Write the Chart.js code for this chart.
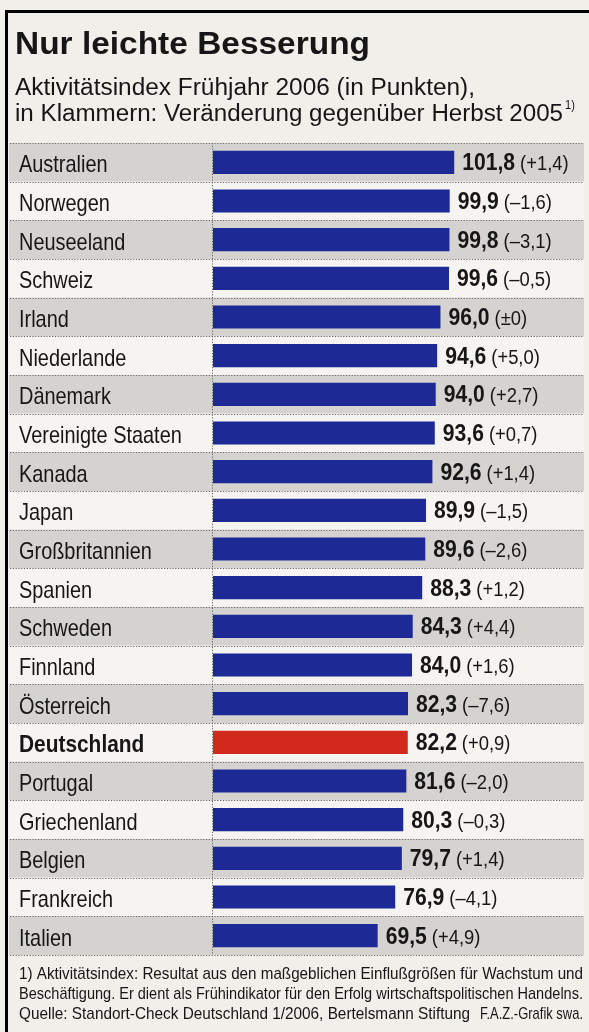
<!DOCTYPE html>
<html>
<head>
<meta charset="utf-8">
<script src="https://cdn.jsdelivr.net/npm/chart.js@4"></script>
<style>
  body { margin: 0; background: #f1efea; }
  canvas { display: block; }
</style>
</head>
<body>
<canvas id="chart" width="589" height="1032"></canvas>
<script>
const countries = ['Australien', 'Norwegen', 'Neuseeland', 'Schweiz', 'Irland', 'Niederlande', 'Dänemark',
  'Vereinigte Staaten', 'Kanada', 'Japan', 'Großbritannien', 'Spanien', 'Schweden', 'Finnland',
  'Österreich', 'Deutschland', 'Portugal', 'Griechenland', 'Belgien', 'Frankreich', 'Italien'];
const scores = [101.8, 99.9, 99.8, 99.6, 96.0, 94.6, 94.0, 93.6, 92.6, 89.9, 89.6,
  88.3, 84.3, 84.0, 82.3, 82.2, 81.6, 80.3, 79.7, 76.9, 69.5];
const changes = [1.4, -1.6, -3.1, -0.5, 0, 5.0, 2.7, 0.7, 1.4, -1.5, -2.6,
  1.2, 4.4, 1.6, -7.6, 0.9, -2.0, -0.3, 1.4, -4.1, 4.9];
const highlight = 'Deutschland';

const title = 'Nur leichte Besserung';
const subtitle1 = 'Aktivitätsindex Frühjahr 2006 (in Punkten),';
const subtitle2 = 'in Klammern: Veränderung gegenüber Herbst 2005';
const footnotes = [
  '1) Aktivitätsindex: Resultat aus den maßgeblichen Einflußgrößen für Wachstum und',
  'Beschäftigung. Er dient als Frühindikator für den Erfolg wirtschaftspolitischen Handelns.'
];
const sourceText = 'Quelle: Standort-Check Deutschland 1/2006, Bertelsmann Stiftung';
const creditText = 'F.A.Z.-Grafik swa.';

// no condensed face installed, so Liberation Sans gets squeezed horizontally
const FONT = "'Liberation Sans', Arial, sans-serif";
const INK = '#161616';
const BLUE = '#1d2a95';
const RED = '#d2291d';

const fmt = v => v.toFixed(1).replace('.', ',');
const fmtChange = v => v === 0 ? '(±0)' : '(' + (v > 0 ? '+' : '–') + fmt(Math.abs(v)) + ')';

// draw text squeezed/stretched to the width it has in the print
function fitText(ctx, text, x, y, width) {
  const w = ctx.measureText(text).width;
  ctx.save();
  ctx.translate(x, y);
  ctx.scale(width / w, 1);
  ctx.fillText(text, 0, 0);
  ctx.restore();
}

// draw condensed text, returns drawn width
function narrowText(ctx, text, x, y, sx) {
  ctx.save();
  ctx.translate(x, y);
  ctx.scale(sx, 1);
  ctx.fillText(text, 0, 0);
  ctx.restore();
  return ctx.measureText(text).width * sx;
}

const paper = {
  id: 'paper',
  beforeDraw(chart) {
    const { ctx, scales: { y }, chartArea } = chart;
    const band = (chartArea.bottom - chartArea.top) / countries.length;
    ctx.save();
    countries.forEach((c, i) => {
      const cy = y.getPixelForValue(i);
      ctx.fillStyle = i % 2 === 0 ? '#d4d3d0' : '#f5f4f0';
      ctx.fillRect(9, cy - band / 2, 575, band);
    });
    // dotted separators
    ctx.strokeStyle = '#666';
    ctx.lineWidth = 1;
    ctx.setLineDash([1.2, 1.6]);
    for (let i = 0; i <= countries.length; i++) {
      const ly = Math.round(chartArea.top + i * band) + 0.5;
      ctx.beginPath();
      ctx.moveTo(10, ly);
      ctx.lineTo(584, ly);
      ctx.stroke();
    }
    ctx.beginPath();
    ctx.moveTo(chartArea.left - 0.5, chartArea.top);
    ctx.lineTo(chartArea.left - 0.5, chartArea.bottom);
    ctx.stroke();
    ctx.restore();
  },
  afterDatasetsDraw(chart) {
    const { ctx, scales: { y } } = chart;
    const meta = chart.getDatasetMeta(0);
    ctx.save();
    ctx.fillStyle = INK;
    ctx.textBaseline = 'alphabetic';
    // country names, placed on the category axis
    countries.forEach((c, i) => {
      const bold = c === highlight;
      ctx.font = (bold ? 'bold ' : '') + '24px ' + FONT;
      narrowText(ctx, c, 19, y.getPixelForValue(i) + 10, bold ? 0.87 : 0.83);
    });
    meta.data.forEach((bar, i) => {
      const x = bar.x + 8;
      const base = bar.y + 8;
      ctx.font = 'bold 24px ' + FONT;
      const w = narrowText(ctx, fmt(scores[i]), x, base, 0.88);
      ctx.font = '20px ' + FONT;
      narrowText(ctx, fmtChange(changes[i]), x + w + 5, base, 0.92);
    });
    ctx.restore();
  },
  afterDraw(chart) {
    const { ctx } = chart;
    ctx.save();
    ctx.fillStyle = INK;
    ctx.textBaseline = 'alphabetic';
    ctx.font = 'bold 32px ' + FONT;
    fitText(ctx, title, 15, 54, 355);
    ctx.font = '23px ' + FONT;
    fitText(ctx, subtitle1, 15, 95, 460);
    fitText(ctx, subtitle2, 15, 121, 548);
    ctx.font = '13px ' + FONT;
    narrowText(ctx, '1)', 565, 109, 0.85);
    ctx.font = '17px ' + FONT;
    fitText(ctx, footnotes[0], 19, 979, 564);
    fitText(ctx, footnotes[1], 19, 999, 564);
    fitText(ctx, sourceText, 19, 1019, 451);
    fitText(ctx, creditText, 480, 1019, 103);
    // frame
    ctx.fillStyle = '#000';
    ctx.fillRect(5, 10, 584, 3);
    ctx.fillRect(5, 10, 3, 1022);
    ctx.restore();
  }
};

new Chart(document.getElementById('chart'), {
  type: 'bar',
  data: {
    labels: countries,
    datasets: [{
      data: scores,
      backgroundColor: countries.map(c => c === highlight ? RED : BLUE),
      barPercentage: 0.6,
      categoryPercentage: 1
    }]
  },
  options: {
    indexAxis: 'y',
    responsive: false,
    animation: false,
    devicePixelRatio: 1,
    layout: { padding: { left: 18, top: 143, right: 4, bottom: 77 } },
    plugins: {
      legend: { display: false },
      tooltip: { enabled: false }
    },
    scales: {
      x: { min: 0, max: 157, display: false },
      y: {
        grid: { display: false },
        border: { display: false },
        ticks: { display: false },
        afterFit: scale => { scale.width = 195; }
      }
    }
  },
  plugins: [paper]
});
</script>
</body>
</html>
